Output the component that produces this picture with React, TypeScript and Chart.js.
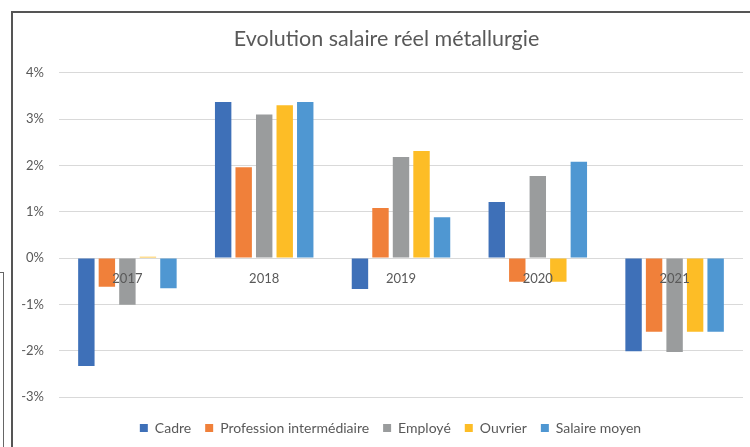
import React, { useEffect, useRef } from "react";
import { Chart, registerables } from "chart.js";

Chart.register(...registerables);

const categories = ["2017", "2018", "2019", "2020", "2021"];
const cadre = [-2.33, 3.37, -0.67, 1.21, -2.01];
const professionIntermediaire = [-0.62, 1.96, 1.08, -0.51, -1.59];
const employe = [-1.01, 3.1, 2.18, 1.77, -2.03];
const ouvrier = [0.03, 3.3, 2.31, -0.51, -1.59];
const salaireMoyen = [-0.65, 3.37, 0.88, 2.08, -1.59];

const seriesNames = ["Cadre", "Profession intermédiaire", "Employé", "Ouvrier", "Salaire moyen"];
const seriesColors = ["#3E70B8", "#F0803A", "#9A9C9D", "#FDBD26", "#4F97D2"];
const yTicks = [-3, -2, -1, 0, 1, 2, 3, 4];

const FONT = "Lato";
const TEXT = "#595959";

export default function App() {
  const ref = useRef<HTMLCanvasElement | null>(null);

  useEffect(() => {
    const canvas = ref.current;
    if (!canvas) return;
    const values = [cadre, professionIntermediaire, employe, ouvrier, salaireMoyen];
    const shiftPlugin = {
      id: "shiftBlocks",
      afterLayout(chart: any) {
        if (chart.legend) {
          chart.legend.left = 38;
          chart.legend.right = 743;
        }
        if (chart.titleBlock) {
          chart.titleBlock.left = 30;
          chart.titleBlock.right = 743;
        }
      },
    };
    const chart = new Chart(canvas, {
      type: "bar",
      data: {
        labels: categories,
        datasets: values.map((v, i) => ({
          label: seriesNames[i],
          data: v,
          backgroundColor: seriesColors[i],
          borderWidth: 0,
          categoryPercentage: 0.75,
          barPercentage: 0.8,
        })),
      },
      options: {
        responsive: false,
        animation: false,
        devicePixelRatio: 1,
        layout: { padding: { left: 22, right: 7, top: 0, bottom: 2 } },
        plugins: {
          tooltip: { enabled: false },
          title: {
            display: true,
            text: "Evolution salaire réel métallurgie",
            color: TEXT,
            font: { family: FONT, size: 21.5, weight: "normal" },
            padding: { top: 26, bottom: 21 },
          },
          legend: {
            position: "bottom",
            title: { display: true, text: "", font: { size: 5 }, padding: { top: 4, bottom: 0 } },
            labels: {
              color: TEXT,
              font: { family: FONT, size: 14 },
              boxWidth: 8,
              boxHeight: 8,
              padding: 14,
            },
          },
        },
        scales: {
          x: {
            type: "category",
            position: { y: 0 } as any,
            grid: { display: false },
            border: { display: false },
            ticks: { color: TEXT, font: { family: FONT, size: 13 }, padding: 5, z: 1 } as any,
          },
          y: {
            min: yTicks[0],
            max: yTicks[yTicks.length - 1],
            afterFit(scale: any) {
              scale.width = 37;
            },
            afterBuildTicks(scale: any) {
              scale.ticks = yTicks.map((v) => ({ value: v }));
            },
            grid: { color: "#D9D9D9", lineWidth: 1, drawTicks: false },
            border: { display: false },
            ticks: {
              color: TEXT,
              font: { family: FONT, size: 13 },
              padding: 15,
              callback: (v: any) => `${v}%`,
            },
          },
        },
      },
      plugins: [shiftPlugin],
    });
    return () => chart.destroy();
  }, []);

  return (
    <div style={{ position: "fixed", left: 0, top: 0, width: 750, height: 447, background: "#fff", overflow: "hidden" }}>
      <canvas ref={ref} width={750} height={447} style={{ position: "absolute", left: 0, top: 0 }} />
      <div style={{ position: "absolute", left: 11, top: 11, width: 760, height: 460, borderTop: "2px solid #555", borderLeft: "2px solid #555" }} />
      <div style={{ position: "absolute", left: 0, top: 272, width: 3, height: 200, borderTop: "1px solid #666", borderRight: "1px solid #666" }} />
    </div>
  );
}
